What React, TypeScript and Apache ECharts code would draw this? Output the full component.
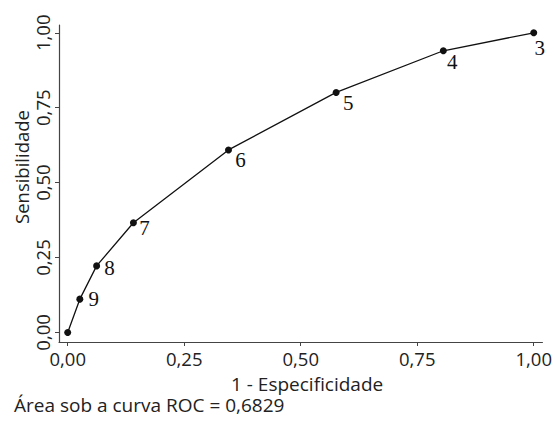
import React, { useEffect, useRef } from "react";
import * as echarts from "echarts";

const fpr = [0, 0.026, 0.062, 0.141, 0.345, 0.576, 0.806, 1.0];
const sens = [0, 0.111, 0.222, 0.366, 0.609, 0.801, 0.94, 1.0];
const pointLabels = ["", "9", "8", "7", "6", "5", "4", "3"];
const tickValues = [0, 0.25, 0.5, 0.75, 1];
const tickLabels = ["0,00", "0,25", "0,50", "0,75", "1,00"];
const labelOffsets = [
  [0, 0],
  [14, 0],
  [13, 2],
  [11, 5],
  [12, 10],
  [12, 11],
  [9, 11],
  [6, 15],
];

const xTitle = "1 - Especificidade";
const yTitle = "Sensibilidade";
const footnote = "Área sob a curva ROC = 0,6829";

const SANS = "Open Sans";
const SERIF = "Liberation Serif";

function fmt(v: number) {
  const i = tickValues.findIndex((t) => Math.abs(t - v) < 1e-6);
  return i >= 0 ? tickLabels[i] : "";
}

export default function App() {
  const ref = useRef<HTMLDivElement>(null);
  useEffect(() => {
    if (!ref.current) return;
    document.body.style.margin = "0";
    const chart = echarts.init(ref.current, undefined, { renderer: "svg" });
    const data = fpr.map((x, i) => ({
      value: [x, sens[i]],
      label: {
        show: pointLabels[i] !== "",
        formatter: pointLabels[i],
        position: "inside",
        offset: labelOffsets[i],
      },
    }));
    chart.setOption({
      animation: false,
      backgroundColor: "#fff",
      grid: { left: 59, right: 12, top: 25, bottom: 85 },
      xAxis: {
        type: "value",
        min: -0.0187,
        max: 1.0187,
        splitLine: { show: false },
        axisLine: { show: true, onZero: false, lineStyle: { color: "#444", width: 1.2 } },
        axisTick: {
          show: true,
          length: 4,
          inside: false,
          customValues: tickValues,
          lineStyle: { color: "#444", width: 1 },
        },
        axisLabel: {
          customValues: tickValues,
          formatter: fmt,
          fontFamily: SANS,
          fontSize: 18.5,
          lineHeight: 19,
          color: "#222",
          margin: 7,
        },
      },
      yAxis: {
        type: "value",
        min: -0.032,
        max: 1.026,
        splitLine: { show: false },
        axisLine: { show: true, onZero: false, lineStyle: { color: "#444", width: 1.2 } },
        axisTick: {
          show: true,
          length: 4,
          inside: false,
          customValues: tickValues,
          lineStyle: { color: "#444", width: 1 },
        },
        axisLabel: {
          customValues: tickValues,
          formatter: fmt,
          fontFamily: SANS,
          fontSize: 18.5,
          lineHeight: 20,
          color: "#222",
          rotate: 90,
          margin: 7,
        },
      },
      graphic: [
        {
          type: "text",
          x: 231,
          y: 384,
          style: {
            text: xTitle,
            fontFamily: SANS,
            fontSize: 19,
            lineHeight: 19,
            fill: "#222",
            textAlign: "left",
            textVerticalAlign: "middle",
          },
        },
        {
          type: "text",
          x: 21,
          y: 167,
          rotation: Math.PI / 2,
          style: {
            text: yTitle,
            fontFamily: SANS,
            fontSize: 18.5,
            lineHeight: 20,
            fill: "#222",
            textAlign: "center",
            textVerticalAlign: "middle",
          },
        },
        {
          type: "text",
          x: 14,
          y: 405,
          style: {
            text: footnote,
            fontFamily: SANS,
            fontSize: 19,
            lineHeight: 19,
            fill: "#222",
            textAlign: "left",
            textVerticalAlign: "middle",
          },
        },
      ],
      series: [
        {
          type: "line",
          data,
          symbol: "circle",
          symbolSize: 7,
          itemStyle: { color: "#111" },
          lineStyle: { color: "#111", width: 1.3 },
          label: {
            fontFamily: SERIF,
            fontSize: 21,
            color: "#111",
          },
        },
      ],
    });
    return () => chart.dispose();
  }, []);
  return <div ref={ref} style={{ width: 555, height: 427 }} />;
}
